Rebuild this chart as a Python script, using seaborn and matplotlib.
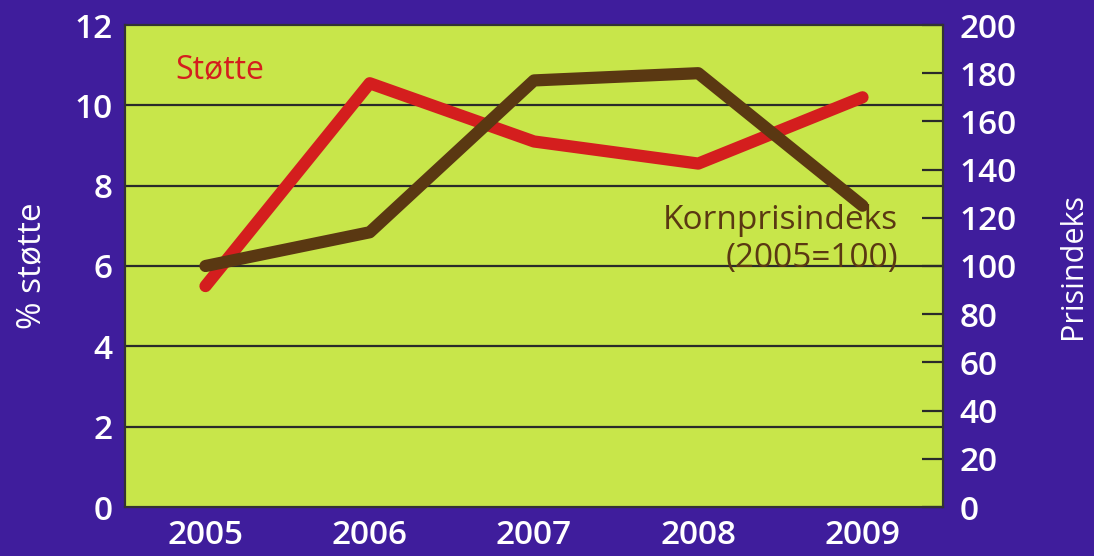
import pandas as pd
import numpy as np
import matplotlib.pyplot as plt
import seaborn as sns

# Data
aar = ["2005", "2006", "2007", "2008", "2009"]
stotte = [5.5, 10.55, 9.1, 8.55, 10.2]          # % støtte (left axis)
kornpris = [100, 114, 177, 180, 125]            # Kornprisindeks, 2005=100 (right axis)

df = pd.DataFrame({"Aar": aar, "Stotte": stotte, "Kornpris": kornpris})
df["pos"] = np.arange(len(aar))

lilla = "#3f1d9c"
gronn = "#c8e64a"
rod = "#d41e1e"
brun = "#5a3812"
mork = "#2a2a2a"

sns.set_style("white")
plt.rcParams["font.family"] = ["Open Sans", "DejaVu Sans"]

fig = plt.figure(figsize=(10.94, 5.56), dpi=100, facecolor=lilla)
ax = fig.add_axes([125 / 1094, 1 - 507 / 556, (943 - 125) / 1094, (507 - 25) / 556])
ax.set_facecolor(gronn)

# gridlines at the left axis ticks
for y in [2, 4, 6, 8, 10]:
    ax.axhline(y, color=mork, lw=1.6, zorder=1)

sns.lineplot(data=df, x="pos", y="Stotte", ax=ax, color=rod, lw=8.8,
             solid_capstyle="round", zorder=3)
ax.set_ylim(0, 12)
ax.set_xlim(-0.49, 4.49)
ax.set_yticks(range(0, 13, 2))
ax.set_xticks(df["pos"])
ax.set_xticklabels(aar)
ax.tick_params(axis="y", labelcolor="white", labelsize=24, length=0, pad=9)
ax.tick_params(axis="x", labelcolor="white", labelsize=24, length=0, pad=9)
for lab in ax.get_xticklabels() + ax.get_yticklabels():
    lab.set_fontweight("semibold")
ax.set_xlabel("")
ax.set_ylabel("% støtte", color="white", fontsize=24, fontweight="medium")
ax.yaxis.set_label_coords(-0.094, 0.5)

ax2 = ax.twinx()
sns.lineplot(data=df, x="pos", y="Kornpris", ax=ax2, color=brun, lw=8.8,
             solid_capstyle="round", zorder=2)
ax2.set_ylim(0, 200)
ax2.set_yticks(range(0, 201, 20))
ax2.tick_params(axis="y", labelcolor="white", color=mork, labelsize=24,
                direction="in", length=15, width=1.6, pad=12)
for lab in ax2.get_yticklabels():
    lab.set_fontweight("semibold")
ax2.set_ylabel("Prisindeks", color="white", fontsize=22, fontweight="medium")
ax2.yaxis.set_label_coords(1.14, 0.5)
ax2.set_xlabel("")

for a in (ax, ax2):
    for s in a.spines.values():
        s.set_color("#333333")
        s.set_linewidth(1.5)

ax.text(0.116, 0.908, "Støtte", transform=ax.transAxes, color=rod, fontsize=23,
        ha="center", va="center")
ax2.text(0.945, 0.555, "Kornprisindeks\n(2005=100)", transform=ax.transAxes, color=brun,
         fontsize=24, ha="right", va="center", linespacing=1.2)

fig.savefig("out.png", dpi=100, facecolor=lilla)
